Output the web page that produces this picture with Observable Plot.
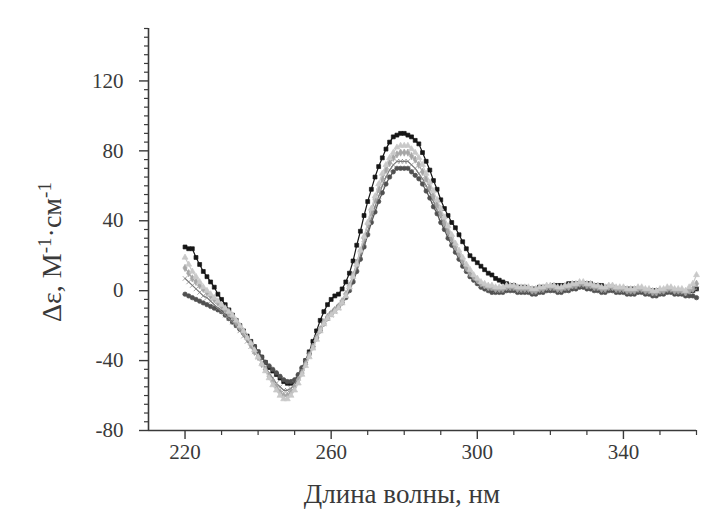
<!DOCTYPE html>
<html>
<head>
<meta charset="utf-8">
<script src="https://cdn.jsdelivr.net/npm/d3@7"></script>
<script src="https://cdn.jsdelivr.net/npm/@observablehq/plot@0.6"></script>
<style>
  html, body { margin: 0; padding: 0; background: #fff; }
  #chart { width: 715px; height: 525px; }
</style>
</head>
<body>
<div id="chart"></div>
<script>
// Wavelength grid (nm), 1 nm step from 220 to 360
const wlStart = 220, wlEnd = 360;

// Series values (Δε), one value per nm
const s1 = [ // black squares
  25, 24, 24, 19, 15, 11, 8, 5, 2, -2,
  -5, -8, -11, -14, -17, -20, -23, -26, -29, -32,
  -35, -38, -41, -44, -46, -48, -50, -52, -53, -53,
  -52, -49, -45, -40, -35, -29, -23, -17, -12, -8,
  -5, -3, -2, 1, 5, 10, 17, 26, 34, 43,
  51, 58, 65, 71, 76, 81, 85, 88, 89, 90,
  90, 89, 88, 86, 84, 79, 74, 69, 63, 58,
  52, 47, 43, 39, 36, 32, 28, 24, 20, 18,
  16, 14, 12, 10, 9, 7, 6, 5, 4, 3,
  3, 2, 2, 2, 1, 1, 1, 2, 2, 2,
  2, 3, 3, 3, 3, 4, 4, 4, 4, 4,
  4, 4, 3, 3, 3, 2, 2, 2, 1, 1,
  1, 1, 1, 1, 0, 0, 0, 0, 0, 0,
  0, 0, 0, 0, 0, -1, -1, -1, 0, 0,
  1];
const s2 = [ // light gray triangles
  19, 15, 11, 8, 5, 2, 0, -2, -4, -6,
  -8, -10, -12, -14, -17, -20, -23, -27, -30, -34,
  -38, -42, -46, -50, -54, -57, -60, -62, -62, -60,
  -57, -53, -48, -43, -38, -33, -28, -23, -19, -16,
  -14, -12, -10, -7, -3, 2, 8, 15, 23, 31,
  39, 47, 54, 61, 67, 72, 76, 79, 82, 83,
  83, 83, 81, 79, 76, 72, 67, 62, 57, 52,
  47, 42, 37, 32, 27, 23, 19, 15, 12, 9,
  7, 5, 4, 3, 3, 2, 2, 2, 3, 3,
  3, 2, 2, 2, 2, 1, 1, 2, 2, 3,
  3, 3, 2, 2, 3, 3, 4, 4, 5, 5,
  4, 4, 3, 3, 2, 2, 3, 3, 2, 2,
  2, 1, 1, 1, 2, 2, 1, 1, 0, 0,
  1, 1, 2, 2, 1, 1, 1, 0, 2, 4,
  9];
const s3 = [ // mid-light gray diamonds
  13, 10, 7, 5, 3, 1, -1, -3, -5, -7,
  -9, -11, -13, -15, -18, -21, -24, -27, -31, -35,
  -38, -42, -45, -49, -52, -55, -58, -60, -60, -58,
  -55, -51, -47, -42, -37, -32, -27, -22, -18, -15,
  -13, -11, -9, -6, -2, 3, 9, 16, 23, 30,
  38, 45, 52, 58, 64, 69, 73, 76, 78, 79,
  79, 79, 77, 75, 72, 68, 64, 59, 54, 49,
  44, 39, 34, 30, 25, 21, 17, 13, 10, 8,
  6, 4, 3, 2, 2, 1, 1, 1, 2, 2,
  2, 1, 1, 1, 1, 0, 0, 1, 1, 2,
  2, 2, 1, 1, 2, 2, 3, 3, 4, 4,
  3, 3, 2, 2, 1, 1, 2, 2, 1, 1,
  1, 0, 0, 0, 1, 1, 0, 0, -1, -1,
  0, 0, 1, 1, 0, 0, 0, -1, 0, 1,
  4];
const s4 = [ // gray crosses
  7, 5, 3, 1, -1, -3, -4, -6, -8, -10,
  -12, -14, -16, -18, -20, -23, -26, -29, -32, -35,
  -38, -41, -44, -47, -50, -53, -55, -57, -57, -56,
  -53, -50, -46, -41, -37, -32, -27, -23, -19, -16,
  -14, -12, -10, -7, -3, 1, 7, 13, 20, 27,
  34, 41, 48, 54, 60, 65, 69, 72, 74, 74,
  74, 74, 72, 70, 67, 64, 60, 56, 51, 46,
  42, 37, 32, 28, 24, 20, 16, 12, 9, 7,
  5, 3, 2, 1, 1, 0, 0, 0, 1, 1,
  1, 0, 0, 0, 0, -1, -1, 0, 0, 1,
  1, 1, 0, 0, 1, 1, 2, 2, 3, 3,
  2, 2, 1, 1, 0, 0, 1, 1, 0, 0,
  0, -1, -1, -1, 0, 0, -1, -1, -2, -2,
  -1, -1, 0, 0, -1, -1, -1, -2, -1, 0,
  1];
const s5 = [ // dark gray circles
  -2, -3, -4, -5, -6, -7, -8, -9, -10, -11,
  -12, -14, -16, -18, -20, -22, -24, -27, -30, -32,
  -35, -38, -41, -43, -45, -47, -49, -51, -52, -52,
  -51, -48, -44, -40, -36, -32, -27, -23, -19, -16,
  -13, -11, -9, -7, -4, 0, 5, 11, 18, 25,
  32, 39, 45, 51, 56, 61, 65, 68, 70, 70,
  70, 70, 68, 66, 64, 61, 57, 53, 48, 44,
  39, 35, 30, 26, 22, 18, 14, 11, 8, 6,
  4, 2, 1, 0, -1, -1, -1, -1, 0, 0,
  0, -1, -1, -1, -1, -2, -2, -1, -1, 0,
  0, 0, -1, -1, 0, 0, 1, 1, 2, 2,
  1, 1, 0, 0, -1, -1, 0, 0, -1, -1,
  -1, -2, -2, -2, -1, -1, -2, -2, -3, -3,
  -2, -2, -1, -1, -2, -2, -2, -3, -3, -3,
  -4];

const yMajor = [-80, -40, 0, 40, 80, 120];
const xMajor = [220, 260, 300, 340];

const wavelengths = d3.range(wlStart, wlEnd + 1);
const seriesDefs = [
  {vals: s1, color: "#161616", symbol: "square"},
  {vals: s5, color: "#505050", symbol: "circle"},
  {vals: s4, color: "#7e7e7e", symbol: "times"},
  {vals: s3, color: "#a6a6a6", symbol: "diamond"},
  {vals: s2, color: "#c9c9c9", symbol: "triangle"}
];

const yMinor = d3.range(-80, 151, 5).filter(v => !yMajor.includes(v));
const xMinor = d3.range(210, 361, 10).filter(v => !xMajor.includes(v) && v !== 210);

const marks = [];
for (const s of seriesDefs) {
  const rows = wavelengths.map((w, i) => ({w, v: s.vals[i]}));
  marks.push(Plot.line(rows, {x: "w", y: "v", stroke: s.color, strokeWidth: 1.2}));
  marks.push(Plot.dot(rows, {x: "w", y: "v", symbol: s.symbol, r: 2.2, fill: s.color, stroke: s.color, strokeWidth: 0.7}));
}

const serif = "Liberation Serif, Times New Roman, DejaVu Serif, serif";
const axisColor = "#3a3a3a";
const chart = Plot.plot({
  width: 715,
  height: 525,
  marginLeft: 148,
  marginRight: 19,
  marginTop: 28,
  marginBottom: 95,
  style: {fontFamily: serif, fontSize: "20px", color: axisColor, background: "#fff"},
  x: {domain: [210, 360]},
  y: {domain: [-80, 150]},
  marks: [
    ...marks,
    Plot.ruleX([210], {y1: -80, y2: 150, stroke: axisColor, strokeWidth: 1.6}),
    Plot.ruleY([-80], {stroke: axisColor, strokeWidth: 1.6}),
    Plot.axisY({ticks: yMajor, tickSize: 9, tickPadding: 16, label: null, tickFormat: d => String(d), fontSize: 21, strokeWidth: 1.4}),
    Plot.axisY({ticks: yMinor, tickSize: 4, text: null, label: null, strokeWidth: 1.2}),
    Plot.axisX({ticks: xMajor, tickSize: 9, tickPadding: 5, label: null, tickFormat: d => String(d), fontSize: 21, strokeWidth: 1.4}),
    Plot.axisX({ticks: xMinor, tickSize: 5, text: null, label: null, strokeWidth: 1.2})
  ]
});

const svg = d3.select(chart);
svg.append("text")
  .attr("x", 402).attr("y", 503)
  .attr("text-anchor", "middle")
  .attr("font-family", serif)
  .attr("font-size", 27).attr("fill", axisColor)
  .text("Длина волны, нм");

const yt = svg.append("text")
  .attr("transform", "translate(61,252) rotate(-90)")
  .attr("text-anchor", "middle")
  .attr("font-family", serif)
  .attr("font-size", 28).attr("fill", axisColor);
yt.append("tspan").text("Δε, М");
yt.append("tspan").attr("dy", -10).attr("font-size", 19).text("-1");
yt.append("tspan").attr("dy", 10).text("·см");
yt.append("tspan").attr("dy", -10).attr("font-size", 19).text("-1");

document.getElementById("chart").appendChild(chart);
</script>
</body>
</html>
